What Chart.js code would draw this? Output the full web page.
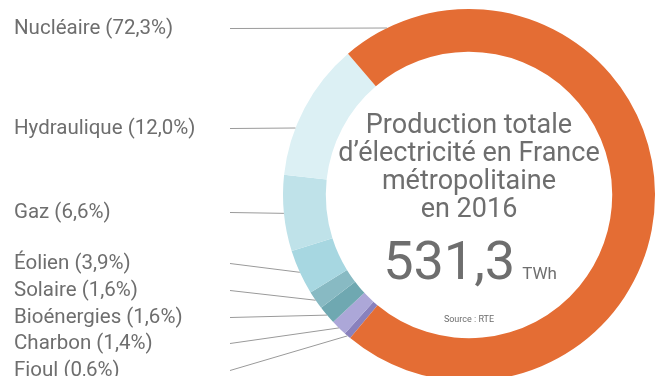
<!DOCTYPE html>
<html>
<head>
<meta charset="utf-8">
<script src="https://cdn.jsdelivr.net/npm/chart.js@4/dist/chart.umd.min.js"></script>
<style>
    html, body { margin: 0; padding: 0; background: #fff; overflow: hidden; }
    #wrap { position: absolute; left: 0; top: 0; width: 659px; height: 400px; }
</style>
</head>
<body>
<div id="wrap"><canvas id="mix" width="659" height="400"></canvas></div>
<script>
// sources de production, dans l'ordre de la liste de gauche
var sources = ['Nucléaire', 'Hydraulique', 'Gaz', 'Éolien', 'Solaire', 'Bioénergies', 'Charbon', 'Fioul'];
var shares = [72.3, 12.0, 6.6, 3.9, 1.6, 1.6, 1.4, 0.6];
var colors = ['#e46d34', '#dcf0f4', '#bfe2e9', '#a7d7e1', '#88bac3', '#6fa8b1', '#aca7d8', '#8981bd'];
var totalTWh = '531,3';
var titleLines = ['Production totale', 'd\u2019électricité en France', 'métropolitaine', 'en 2016'];

// position verticale des étiquettes à gauche
var labelY = [29, 129, 213, 264, 291, 318, 344, 371];
var textColor = '#6e6e6e';

// le graphe tourne dans le sens horaire à partir du fioul
var drawOrder = sources.map(function (s, i) { return i; }).reverse();

var leaderPlugin = {
    id: 'leaders',
    afterDraw: function (chart) {
        var ctx = chart.ctx;
        var meta = chart.getDatasetMeta(0);
        ctx.save();

        // étiquettes + traits
        drawOrder.forEach(function (src, k) {
            var arc = meta.data[k];
            var y = labelY[src];
            var cx = arc.x, cy = arc.y, r = arc.outerRadius;
            var ex, ey;
            if (shares[src] >= 10) {
                ey = y - 1;
                ex = cx - Math.sqrt(r * r - (ey - cy) * (ey - cy));
            } else {
                var mid = (arc.startAngle + arc.endAngle) / 2;
                ex = cx + r * Math.cos(mid);
                ey = cy + r * Math.sin(mid);
            }
            ctx.strokeStyle = '#9a9a9a';
            ctx.lineWidth = 1;
            ctx.beginPath();
            ctx.moveTo(230, y - 0.5);
            ctx.lineTo(ex, ey);
            ctx.stroke();

            ctx.fillStyle = textColor;
            ctx.font = '20.5px Roboto';
            ctx.textAlign = 'left';
            ctx.textBaseline = 'middle';
            ctx.fillText(sources[src] + ' (' + shares[src].toFixed(1).replace('.', ',') + '%)', 14, y);
        });

        // texte central
        var c = meta.data[0];
        var x = c.x;
        ctx.fillStyle = textColor;
        ctx.textAlign = 'center';
        ctx.textBaseline = 'alphabetic';
        ctx.font = '27px Roboto';
        titleLines.forEach(function (t, i) {
            ctx.fillText(t, x, 133 + i * 28);
        });

        ctx.font = '54px Roboto';
        var wNum = ctx.measureText(totalTWh).width;
        ctx.font = '17px Roboto';
        var wUnit = ctx.measureText('TWh').width;
        var start = x - (wNum + 7 + wUnit) / 2 + 1;
        ctx.textAlign = 'left';
        ctx.font = '54px Roboto';
        ctx.fillText(totalTWh, start, 279);
        ctx.font = '17px Roboto';
        ctx.fillText('TWh', start + wNum + 7, 279);

        ctx.textAlign = 'center';
        ctx.font = '9px Roboto';
        ctx.fillText('Source : RTE', x, 322);
        ctx.restore();
    }
};

var chartMix = new Chart(document.getElementById('mix').getContext('2d'), {
    type: 'doughnut',
    data: {
        labels: drawOrder.map(function (i) { return sources[i]; }),
        datasets: [{
            data: drawOrder.map(function (i) { return shares[i]; }),
            backgroundColor: drawOrder.map(function (i) { return colors[i]; }),
            borderWidth: 0
        }]
    },
    options: {
        responsive: false,
        animation: false,
        rotation: 219.7,
        cutout: '77%',
        layout: { padding: { left: 283, top: 9, right: 4, bottom: 19 } },
        plugins: {
            legend: { display: false },
            tooltip: { enabled: false }
        }
    },
    plugins: [leaderPlugin]
});
</script>
</body>
</html>
